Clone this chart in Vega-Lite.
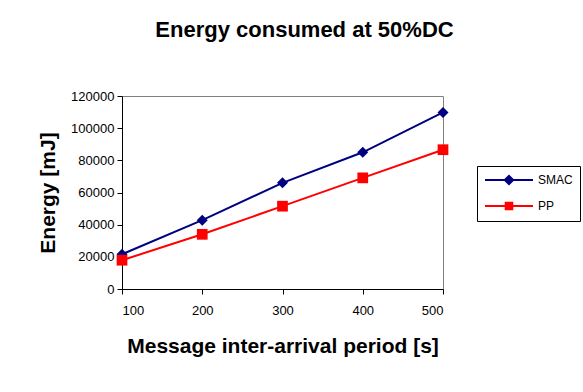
{
  "$schema": "https://vega.github.io/schema/vega-lite/v6.json",
  "autosize": {"type": "none"},
  "width": 321,
  "height": 193,
  "padding": {"left": 122, "top": 96, "right": 140, "bottom": 103},
  "background": "white",
  "title": {
    "text": "Energy consumed at 50%DC",
    "font": "Liberation Sans",
    "fontSize": 22,
    "fontWeight": "bold",
    "color": "black",
    "anchor": "middle",
    "baseline": "alphabetic",
    "dx": 22,
    "offset": 31
  },
  "config": {
    "view": {"stroke": "#808080", "strokeWidth": 1},
    "axis": {
      "labelFont": "Liberation Sans",
      "labelFontSize": 13,
      "labelColor": "black",
      "titleFont": "Liberation Sans",
      "titleFontSize": 21,
      "titleFontWeight": "bold",
      "titleColor": "black",
      "domainColor": "black",
      "tickColor": "black",
      "tickSize": 5,
      "grid": false
    }
  },
  "data": {
    "values": [
      {"period": 100, "series": "SMAC", "energy": 21600},
      {"period": 200, "series": "SMAC", "energy": 42800},
      {"period": 300, "series": "SMAC", "energy": 66000},
      {"period": 400, "series": "SMAC", "energy": 85000},
      {"period": 500, "series": "SMAC", "energy": 109800},
      {"period": 100, "series": "PP", "energy": 17900},
      {"period": 200, "series": "PP", "energy": 34000},
      {"period": 300, "series": "PP", "energy": 51500},
      {"period": 400, "series": "PP", "energy": 69100},
      {"period": 500, "series": "PP", "energy": 86600}
    ]
  },
  "encoding": {
    "x": {
      "field": "period",
      "type": "quantitative",
      "scale": {"domain": [100, 500], "nice": false, "zero": false},
      "axis": {
        "title": "Message inter-arrival period [s]",
        "values": [100, 200, 300, 400, 500],
        "labelPadding": 10,
        "titlePadding": 18,
        "format": "d"
      }
    },
    "y": {
      "field": "energy",
      "type": "quantitative",
      "scale": {"domain": [0, 120000], "nice": false},
      "axis": {
        "title": "Energy [mJ]",
        "values": [0, 20000, 40000, 60000, 80000, 100000, 120000],
        "format": "d",
        "labelPadding": 3,
        "titlePadding": 12
      }
    },
    "color": {
      "field": "series",
      "type": "nominal",
      "scale": {"domain": ["SMAC", "PP"], "range": ["#000080", "#FF0000"]},
      "legend": {
        "title": null,
        "orient": "none",
        "legendX": 355,
        "legendY": 70,
        "strokeColor": "black",
        "fillColor": "white",
        "padding": 7,
        "labelFont": "Liberation Sans",
        "labelFontSize": 12,
        "labelColor": "black",
        "symbolType": "circle",
        "symbolSize": 144,
        "symbolOffset": 18,
        "labelOffset": 22,
        "rowPadding": 9,
        "symbolStrokeWidth": 2,
        "encode": {
          "symbols": {
            "update": {
              "shape": {"signal": "datum.value === 'SMAC' ? 'M-4,0H4M-0.7,0L0,-0.7L0.7,0L0,0.7Z' : 'M-4,0H4M-0.55,-0.55H0.55V0.55H-0.55Z'"},
              "fill": {"signal": "datum.value === 'SMAC' ? '#000080' : '#FF0000'"},
              "stroke": {"signal": "datum.value === 'SMAC' ? '#000080' : '#FF0000'"},
              "fillOpacity": {"value": 1},
              "strokeOpacity": {"value": 1},
              "opacity": {"value": 1}
            }
          }
        }
      }
    }
  },
  "layer": [
    {"mark": {"type": "line", "strokeWidth": 2}},
    {
      "transform": [{"filter": "datum.series === 'SMAC'"}],
      "mark": {"type": "point", "filled": true, "opacity": 1, "shape": "diamond", "size": 121}
    },
    {
      "transform": [{"filter": "datum.series === 'PP'"}],
      "mark": {"type": "point", "filled": true, "opacity": 1, "shape": "square", "size": 115}
    }
  ]
}
